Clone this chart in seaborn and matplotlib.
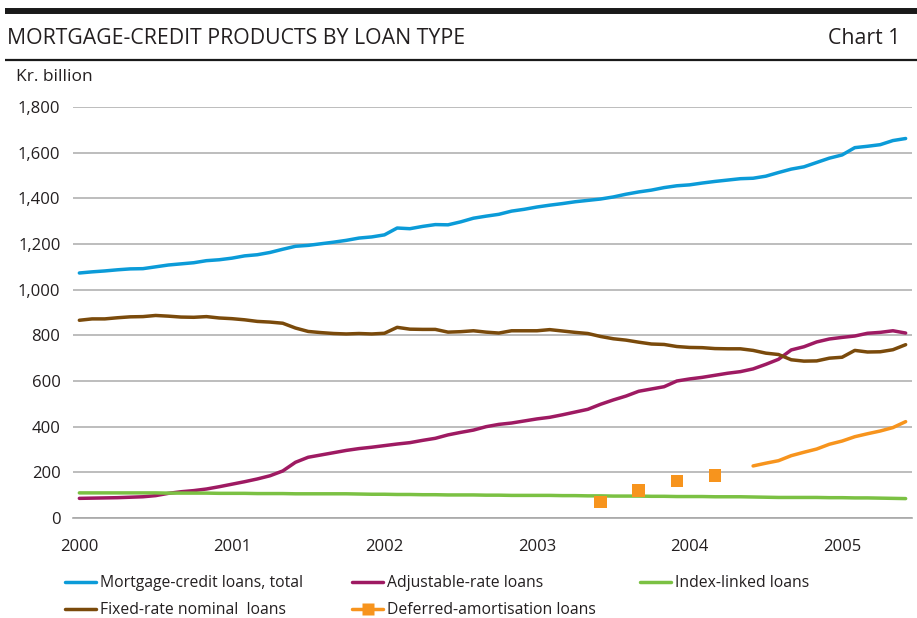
import numpy as np
import pandas as pd
import matplotlib
matplotlib.use("Agg")
import matplotlib.pyplot as plt
from matplotlib.lines import Line2D
from matplotlib.ticker import FixedLocator, FuncFormatter
import seaborn as sns

sns.set_theme(style="white")
plt.rcParams["font.family"] = ["Open Sans", "DejaVu Sans"]

# Monthly observations, January 2000 to June 2005 (kr. billion)
months = pd.period_range("2000-01", "2005-06", freq="M")

total = [1073, 1078, 1082, 1087, 1091, 1092, 1100, 1108, 1113, 1118, 1127, 1131,
         1138, 1148, 1153, 1163, 1177, 1190, 1194, 1201, 1208, 1216, 1226, 1231,
         1240, 1270, 1267, 1277, 1285, 1284, 1297, 1313, 1322, 1330, 1344, 1352,
         1362, 1370, 1377, 1385, 1391, 1397, 1406, 1418, 1428, 1436, 1447, 1455,
         1459, 1467, 1474, 1480, 1486, 1488, 1497, 1513, 1528, 1538, 1557, 1576,
         1590, 1622, 1628, 1635, 1653, 1662]

adjustable = [86, 87, 88, 89, 91, 93, 98, 108, 115, 120, 127, 137,
              148, 159, 171, 185, 206, 244, 266, 276, 286, 296, 304, 310,
              317, 324, 330, 340, 349, 364, 375, 385, 400, 410, 416, 425,
              434, 441, 452, 464, 476, 498, 517, 534, 555, 565, 575, 600,
              609, 616, 625, 634, 641, 653, 673, 695, 736, 750, 771, 784,
              791, 797, 809, 813, 820, 810]

index_linked = [110, 110, 110, 110, 110, 110, 110, 109, 109, 109, 109, 108,
                108, 108, 107, 107, 107, 106, 106, 106, 106, 106, 105, 104,
                104, 103, 103, 102, 102, 101, 101, 101, 100, 100, 99, 99,
                99, 99, 98, 98, 97, 97, 96, 96, 96, 95, 95, 94,
                94, 94, 93, 93, 93, 92, 91, 90, 90, 90, 90, 89,
                89, 88, 88, 87, 86, 85]

fixed_rate = [866, 872, 872, 877, 881, 882, 887, 884, 880, 879, 882, 876,
              873, 868, 861, 858, 853, 832, 817, 812, 808, 806, 808, 806,
              809, 835, 827, 826, 826, 814, 816, 820, 814, 810, 820, 820,
              820, 825, 819, 813, 808, 795, 785, 779, 770, 762, 760, 751,
              747, 746, 742, 741, 741, 734, 722, 716, 693, 687, 688, 700,
              704, 734, 727, 728, 737, 759]

# Deferred-amortisation loans: quarterly figures first, monthly from June 2004
deferred_q_months = ["2003-06", "2003-09", "2003-12", "2004-03"]
deferred_q = [71, 121, 163, 187]
deferred_m = [228, 240, 251, 273, 288, 302, 323, 337, 356, 369, 381, 396, 422]

series_names = ["Mortgage-credit loans, total", "Adjustable-rate loans",
                "Index-linked loans", "Fixed-rate nominal  loans",
                "Deferred-amortisation loans"]
colors = ["#0b9bd8", "#9e1a62", "#7bc143", "#7a4a0b", "#f7941d"]

y_ticks = [0, 200, 400, 600, 800, 1000, 1200, 1400, 1600, 1800]
year_labels = ["2000", "2001", "2002", "2003", "2004", "2005"]

idx = np.arange(len(months))
month_pos = {str(p): i for i, p in enumerate(months)}

monthly = pd.DataFrame({
    "t": idx,
    series_names[0]: total,
    series_names[1]: adjustable,
    series_names[2]: index_linked,
    series_names[3]: fixed_rate,
})
long = monthly.melt(id_vars="t", var_name="series", value_name="value")

dq = pd.DataFrame({"t": [month_pos[m] for m in deferred_q_months], "value": deferred_q})
dm = pd.DataFrame({"t": idx[len(idx) - len(deferred_m):], "value": deferred_m})

W, H = 917, 618
fig = plt.figure(figsize=(W / 100, H / 100), dpi=100)
ax = fig.add_axes([73 / W, 1 - 518 / H, (912 - 73) / W, (518 - 107) / H])

text_color = "#231f20"
grid_color = "#bdbdbd"
lw = 2.5

for name, col in zip(series_names[:4], colors[:4]):
    sns.lineplot(data=long[long["series"] == name], x="t", y="value", ax=ax,
                 color=col, lw=lw, legend=False, solid_capstyle="round")
sns.lineplot(data=dm, x="t", y="value", ax=ax, color=colors[4], lw=lw, legend=False,
             solid_capstyle="round")
sns.scatterplot(data=dq, x="t", y="value", ax=ax, color=colors[4], marker="s",
                s=80, edgecolor="none", legend=False, zorder=5)

ax.set_xlim(-0.5, len(months) - 0.5)
ax.set_ylim(0, 1800)
ax.set_xlabel("")
ax.set_ylabel("")

ax.yaxis.set_major_locator(FixedLocator(y_ticks))
ax.yaxis.set_major_formatter(FuncFormatter(lambda v, p: f"{int(v):,}"))
ax.grid(axis="y", color=grid_color, lw=1.4)
ax.set_axisbelow(True)

ax.xaxis.set_major_locator(FixedLocator(list(range(0, len(months), 12))))
ax.set_xticklabels(year_labels)
ax.xaxis.set_minor_locator(FixedLocator(list(np.arange(-0.5, len(months), 1.0))))
ax.tick_params(axis="x", which="major", length=0, pad=15, labelsize=12, labelcolor=text_color)
ax.tick_params(axis="x", which="minor", direction="in", length=4, width=1, color="#a8a8a8")
ax.tick_params(axis="y", length=0, pad=9, labelsize=12, labelcolor=text_color)

for s in ["top", "right", "left"]:
    ax.spines[s].set_visible(False)
ax.spines["bottom"].set_color("#a8a8a8")
ax.spines["bottom"].set_linewidth(1.2)

# Header
fig.add_artist(Line2D([5 / W, 1], [1 - 11 / H] * 2, color="#1a1a1a", lw=4.3,
                      solid_capstyle="butt"))
fig.add_artist(Line2D([5 / W, 1], [1 - 60 / H] * 2, color="#1a1a1a", lw=1.6,
                      solid_capstyle="butt"))
fig.text(7 / W, 1 - 38 / H, "MORTGAGE-CREDIT PRODUCTS BY LOAN TYPE", fontsize=15.3,
         color=text_color, va="center", ha="left")
fig.text(900 / W, 1 - 38 / H, "Chart 1", fontsize=15.3, color=text_color,
         va="center", ha="right")
fig.text(16 / W, 1 - 77 / H, "Kr. billion", fontsize=12.5, color=text_color,
         va="center", ha="left")

# Legend entries, one per slot
slots = [(65, 583), (352, 583), (640, 583), (65, 610), (352, 610)]
for i, (name, col) in enumerate(zip(series_names, colors)):
    if i == 4:
        h = Line2D([], [], color=col, lw=lw, marker="s", markersize=8.5,
                   markeredgecolor="none")
    else:
        h = Line2D([], [], color=col, lw=lw)
    x0, y0 = slots[i]
    fig.legend([h], [name], loc="center left", bbox_to_anchor=(x0 / W, 1 - y0 / H),
               frameon=False, fontsize=11.3, handlelength=2.0, handletextpad=0.2,
               borderpad=0, borderaxespad=0, labelcolor=text_color)

fig.savefig("out.png", dpi=100, facecolor="white")
